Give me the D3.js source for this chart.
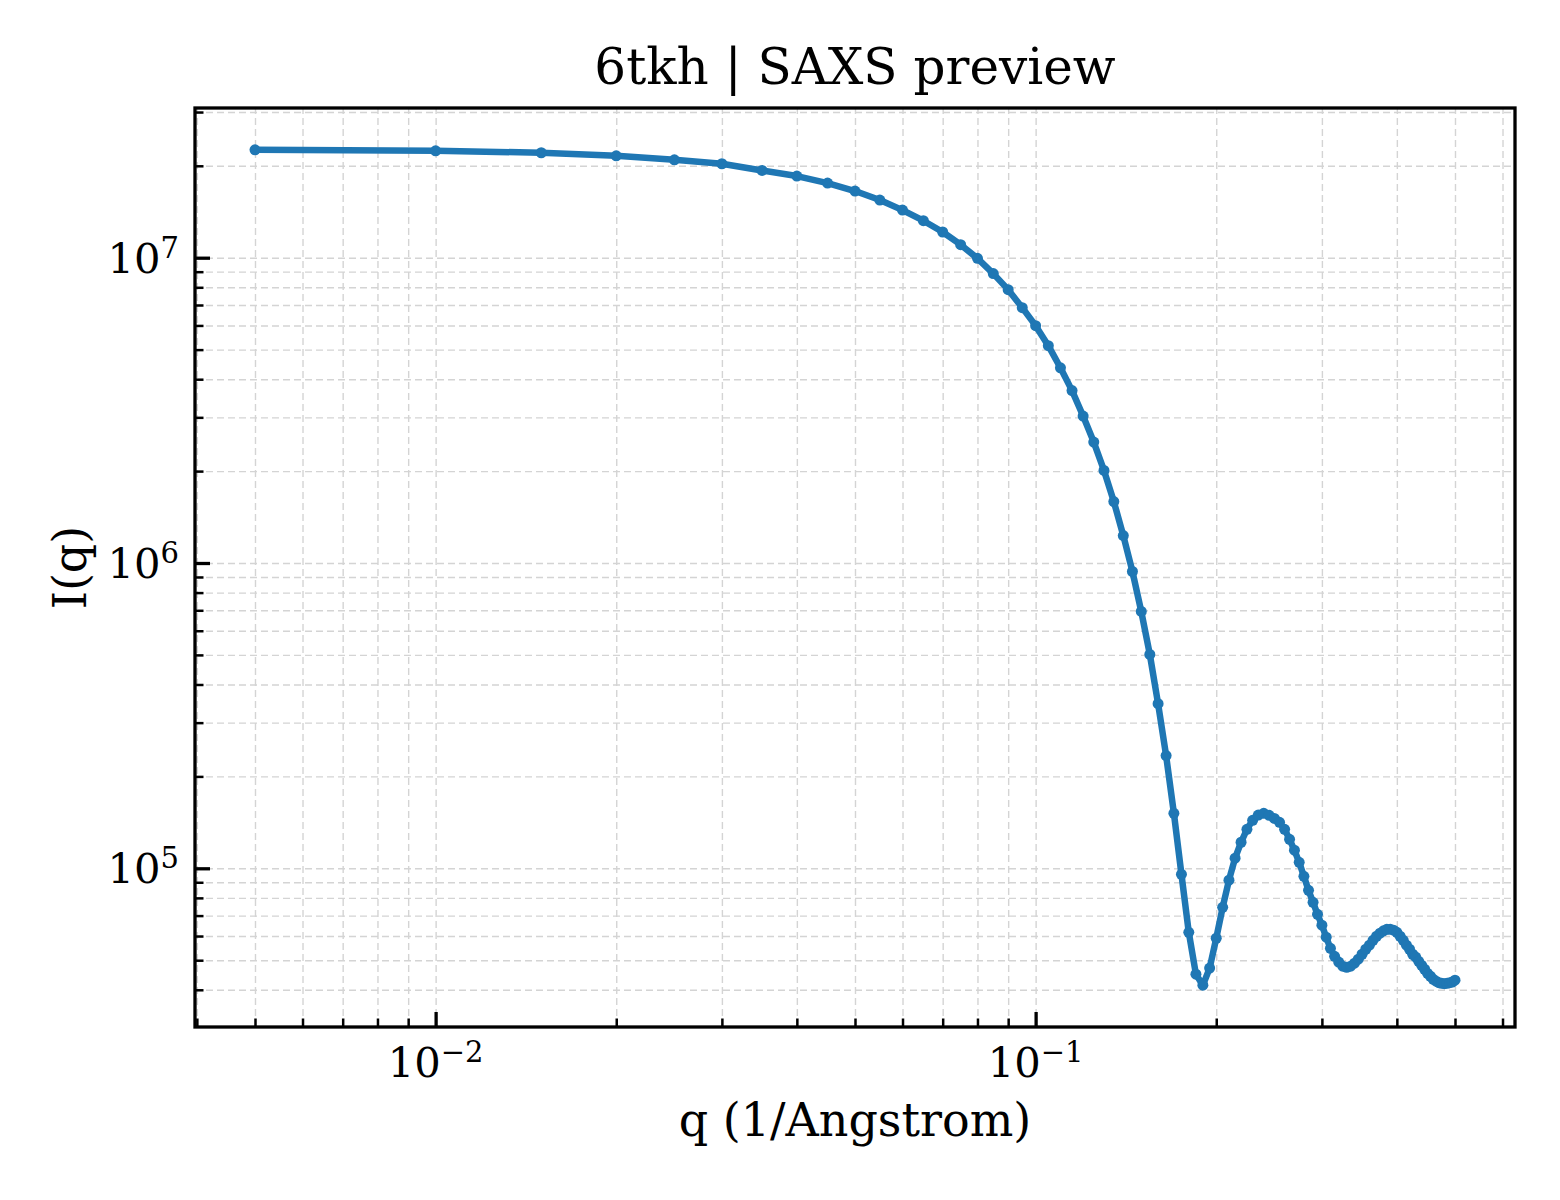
<!DOCTYPE html>
<html>
<head>
<meta charset="utf-8">
<script src="https://cdn.jsdelivr.net/npm/d3@7"></script>
<style>
	body { margin: 0; background: #fff; }
	svg text { font-family: 'DejaVu Serif', serif; fill: #000; }
</style>
</head>
<body>
<div id="chart"></div>
<script>
// q grid (1/Angstrom) and I(q)
const qValues = [
	0.005, 0.010, 0.015, 0.020, 0.025, 0.030, 0.035, 0.040, 0.045, 0.050,
	0.055, 0.060, 0.065, 0.070, 0.075, 0.080, 0.085, 0.090, 0.095, 0.100,
	0.105, 0.110, 0.115, 0.120, 0.125, 0.130, 0.135, 0.140, 0.145, 0.150,
	0.155, 0.160, 0.165, 0.170, 0.175, 0.180, 0.185, 0.190, 0.195, 0.200,
	0.205, 0.210, 0.215, 0.220, 0.225, 0.230, 0.235, 0.240, 0.245, 0.250,
	0.255, 0.260, 0.265, 0.270, 0.275, 0.280, 0.285, 0.290, 0.295, 0.300,
	0.305, 0.310, 0.315, 0.320, 0.325, 0.330, 0.335, 0.340, 0.345, 0.350,
	0.355, 0.360, 0.365, 0.370, 0.375, 0.380, 0.385, 0.390, 0.395, 0.400,
	0.405, 0.410, 0.415, 0.420, 0.425, 0.430, 0.435, 0.440, 0.445, 0.450,
	0.455, 0.460, 0.465, 0.470, 0.475, 0.480, 0.485, 0.490, 0.495, 0.500
];

const intensity = [
	2.257e7, 2.240e7, 2.207e7, 2.157e7, 2.093e7, 2.031e7, 1.931e7, 1.851e7, 1.756e7, 1.653e7,
	1.545e7, 1.432e7, 1.322e7, 1.214e7, 1.103e7, 9.95e6, 8.87e6, 7.86e6, 6.86e6, 5.99e6,
	5.15e6, 4.36e6, 3.67e6, 3.03e6, 2.49e6, 2.01e6, 1.59e6, 1.23e6, 9.38e5, 6.94e5,
	5.02e5, 3.46e5, 2.34e5, 1.514e5, 9.56e4, 6.17e4, 4.50e4, 4.14e4, 4.71e4, 5.90e4,
	7.45e4, 9.14e4, 1.079e5, 1.217e5, 1.342e5, 1.436e5, 1.494e5, 1.514e5, 1.491e5, 1.457e5,
	1.414e5, 1.342e5, 1.244e5, 1.146e5, 1.046e5, 9.41e4, 8.47e4, 7.74e4, 7.07e4, 6.51e4,
	5.95e4, 5.47e4, 5.15e4, 4.93e4, 4.78e4, 4.74e4, 4.78e4, 4.89e4, 5.04e4, 5.23e4,
	5.43e4, 5.60e4, 5.81e4, 5.99e4, 6.13e4, 6.24e4, 6.31e4, 6.31e4, 6.27e4, 6.17e4,
	5.99e4, 5.81e4, 5.60e4, 5.43e4, 5.23e4, 5.12e4, 4.96e4, 4.81e4, 4.67e4, 4.53e4,
	4.43e4, 4.33e4, 4.27e4, 4.22e4, 4.20e4, 4.19e4, 4.20e4, 4.22e4, 4.24e4, 4.30e4
];

// major tick labels are 10^exp
const xTickExps = [-2, -1];
const yTickExps = [5, 6, 7];

const chartTitle = '6tkh | SAXS preview';
const xTitle = 'q (1/Angstrom)';
const yTitle = 'I(q)';

(() => {
	const width = 1560
	const height = 1200
	const margins = { top: 108, left: 195, bottom: 173, right: 45 }
	const innerWidth = width - margins.left - margins.right
	const innerHeight = height - margins.top - margins.bottom

	const fontSize = 41.7
	const labelSize = 46
	const supSize = 29
	const blue = '#1f77b4'

	const data = qValues.map((q, i) => ({ q, I: intensity[i] }))

	// matplotlib-style 5% padding in log space
	const padLog = (ext) => {
		const a = Math.log10(ext[0])
		const b = Math.log10(ext[1])
		const p = (b - a) * 0.05
		return [10 ** (a - p), 10 ** (b + p)]
	}

	const x = d3.scaleLog()
		.domain(padLog(d3.extent(qValues)))
		.range([0, innerWidth])

	const y = d3.scaleLog()
		.domain(padLog(d3.extent(intensity)))
		.range([innerHeight, 0])

	const xMajor = xTickExps.map((e) => 10 ** e)
	const yMajor = yTickExps.map((e) => 10 ** e)
	const isMajor = (list) => (v) => list.some((m) => Math.abs(v / m - 1) < 1e-9)
	const xMinor = x.ticks().filter((v) => !isMajor(xMajor)(v))
	const yMinor = y.ticks().filter((v) => !isMajor(yMajor)(v))

	const svg = d3.select('#chart')
		.append('svg')
		.attr('width', width)
		.attr('height', height)
		.attr('viewBox', `0 0 ${width} ${height}`)

	svg.append('rect')
		.attr('width', width)
		.attr('height', height)
		.attr('fill', '#fff')

	const g = svg.append('g')
		.attr('transform', `translate(${margins.left}, ${margins.top})`)

	// grid, major and minor alike
	const grid = g.append('g').attr('class', 'grid')
	grid.append('g')
		.attr('transform', `translate(0, ${innerHeight})`)
		.call(d3.axisBottom(x).tickValues(xMajor.concat(xMinor)).tickSize(-innerHeight).tickFormat(''))
	grid.append('g')
		.call(d3.axisLeft(y).tickValues(yMajor.concat(yMinor)).tickSize(-innerWidth).tickFormat(''))
	grid.selectAll('.domain').remove()
	grid.selectAll('line')
		.attr('stroke', '#d4d4d4')
		.attr('stroke-width', 1.4)
		.attr('stroke-dasharray', '7,4')

	// curve
	const line = d3.line()
		.x((d) => x(d.q))
		.y((d) => y(d.I))

	g.append('path')
		.datum(data)
		.attr('fill', 'none')
		.attr('stroke', blue)
		.attr('stroke-width', 6.5)
		.attr('stroke-linejoin', 'round')
		.attr('d', line)

	g.append('g')
		.selectAll('circle')
		.data(data)
		.enter()
		.append('circle')
		.attr('cx', (d) => x(d.q))
		.attr('cy', (d) => y(d.I))
		.attr('r', 5.5)
		.attr('fill', blue)

	// ticks point inward
	const axes = g.append('g').attr('class', 'axes')
	const xAxisG = axes.append('g').attr('transform', `translate(0, ${innerHeight})`)
	xAxisG.append('g')
		.call(d3.axisBottom(x).tickValues(xMinor).tickSizeInner(-8.5).tickSizeOuter(0).tickFormat(''))
		.call((s) => s.selectAll('line').attr('stroke-width', 2.5))
	xAxisG.append('g')
		.call(d3.axisBottom(x).tickValues(xMajor).tickSizeInner(-15).tickSizeOuter(0).tickFormat(''))
		.call((s) => s.selectAll('line').attr('stroke-width', 3.3))

	const yAxisG = axes.append('g')
	yAxisG.append('g')
		.call(d3.axisLeft(y).tickValues(yMinor).tickSizeInner(-8.5).tickSizeOuter(0).tickFormat(''))
		.call((s) => s.selectAll('line').attr('stroke-width', 2.5))
	yAxisG.append('g')
		.call(d3.axisLeft(y).tickValues(yMajor).tickSizeInner(-15).tickSizeOuter(0).tickFormat(''))
		.call((s) => s.selectAll('line').attr('stroke-width', 3.3))
	axes.selectAll('.domain').remove()

	// frame on all four sides
	g.append('rect')
		.attr('width', innerWidth)
		.attr('height', innerHeight)
		.attr('fill', 'none')
		.attr('stroke', '#000')
		.attr('stroke-width', 3.3)

	// 10^n labels
	const powerLabel = (sel, exp) => {
		sel.append('tspan').text('10').style('font-size', `${fontSize}px`)
		sel.append('tspan')
			.text(exp < 0 ? `\u2212${-exp}` : `${exp}`)
			.attr('dy', -15)
			.style('font-size', `${supSize}px`)
	}

	g.append('g')
		.selectAll('text')
		.data(xTickExps)
		.enter()
		.append('text')
		.attr('x', (d) => x(10 ** d))
		.attr('y', innerHeight + 50)
		.attr('text-anchor', 'middle')
		.each(function (d) { powerLabel(d3.select(this), d) })

	g.append('g')
		.selectAll('text')
		.data(yTickExps)
		.enter()
		.append('text')
		.attr('x', -16)
		.attr('y', (d) => y(10 ** d) + 15)
		.attr('text-anchor', 'end')
		.each(function (d) { powerLabel(d3.select(this), d) })

	// titles
	svg.append('text')
		.text(chartTitle)
		.attr('x', margins.left + innerWidth / 2)
		.attr('y', 84)
		.attr('text-anchor', 'middle')
		.style('font-size', '50px')

	svg.append('text')
		.text(xTitle)
		.attr('x', margins.left + innerWidth / 2)
		.attr('y', 1136)
		.attr('text-anchor', 'middle')
		.style('font-size', `${labelSize}px`)

	svg.append('text')
		.text(yTitle)
		.attr('transform', `translate(86, ${margins.top + innerHeight / 2}) rotate(-90)`)
		.attr('text-anchor', 'middle')
		.style('font-size', `${labelSize}px`)
})()
</script>
</body>
</html>
